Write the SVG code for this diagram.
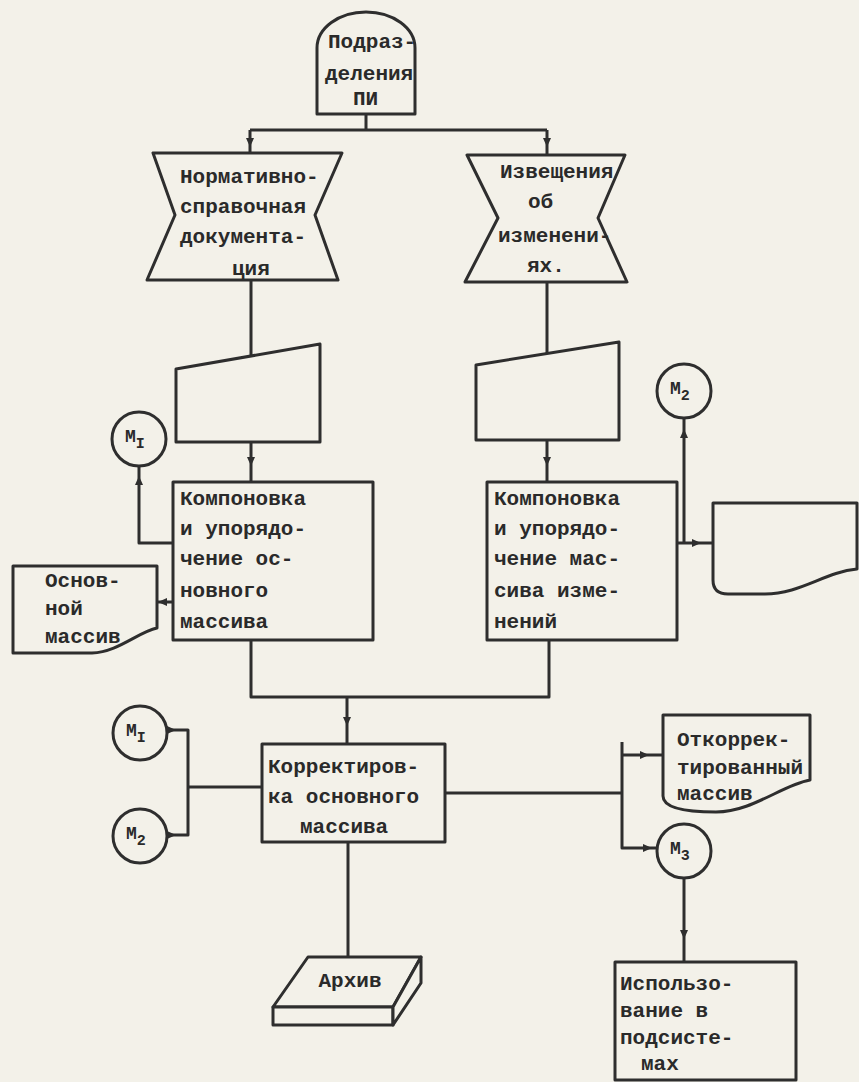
<svg xmlns="http://www.w3.org/2000/svg" xmlns:xlink="http://www.w3.org/1999/xlink" width="859" height="1082" viewBox="0 0 859 1082">
<style>
.bg{fill:#f3f1e9}
.s{fill:#f3f1e9;stroke:#2e2e2e;stroke-width:3;stroke-linejoin:round}
.c{fill:none;stroke:#2e2e2e;stroke-width:3;stroke-linejoin:round}
.t{font-family:"Liberation Mono","DejaVu Sans Mono",monospace;font-size:21px;font-weight:bold;fill:#2a2a2a}
.m{font-family:"Liberation Mono","DejaVu Sans Mono",monospace;font-size:18px;font-weight:bold;fill:#2a2a2a}
.sub{font-size:15px}
.ah{fill:#2e2e2e}
</style>
<defs>
<path id="ah" class="ah" d="M-5,-4 L4,0 L-5,4 Z"/>
</defs>
<rect class="bg" x="0" y="0" width="859" height="1082"/>

<g id="connectors">
<path class="c" d="M366,114 V130 M250,130 H547 M250,130 V153 M547,130 V155"/>
<path class="c" d="M251,280 V356 M547,282 V354"/>
<path class="c" d="M251,442 V482 M547,440 V482"/>
<path class="c" d="M173,543 H139 V466"/>
<path class="c" d="M173,602 H157"/>
<path class="c" d="M677,543 H713 M684,543 V419"/>
<path class="c" d="M251,640 V697 H549 V640 M347,697 V744"/>
<path class="c" d="M167,730 H188 V835 H167 M188,787 H262"/>
<path class="c" d="M445,793 H622 M622,742 V848 H657 M622,755 H663"/>
<path class="c" d="M684,878 V962"/>
<path class="c" d="M348,842 V957"/>
<use xlink:href="#ah" transform="translate(250,143) rotate(90)"/>
<use xlink:href="#ah" transform="translate(547,143) rotate(90)"/>
<use xlink:href="#ah" transform="translate(251,462) rotate(90)"/>
<use xlink:href="#ah" transform="translate(547,462) rotate(90)"/>
<use xlink:href="#ah" transform="translate(139,480) rotate(-90)"/>
<use xlink:href="#ah" transform="translate(162,602) rotate(180)"/>
<use xlink:href="#ah" transform="translate(684,433) rotate(-90)"/>
<use xlink:href="#ah" transform="translate(697,543)"/>
<use xlink:href="#ah" transform="translate(347,722) rotate(90)"/>
<use xlink:href="#ah" transform="translate(645,755)"/>
<use xlink:href="#ah" transform="translate(648,848)"/>
<use xlink:href="#ah" transform="translate(684,935) rotate(90)"/>
<use xlink:href="#ah" transform="translate(172,730)"/>
<use xlink:href="#ah" transform="translate(172,835)"/>
</g>

<g id="podrazdeleniya">
<path class="s" d="M317,114 V48 A49,36 0 0 1 415,48 V114 Z"/>
<text class="t" x="328" y="48">Подраз-</text>
<text class="t" x="325" y="80">деления</text>
<text class="t" x="353" y="105">ПИ</text>
</g>

<g id="nsd">
<path class="s" d="M153,153 H342 L315,215 L338,280 H147 L175,215 Z"/>
<text class="t" x="180" y="183">Нормативно-</text>
<text class="t" x="180" y="213">справочная</text>
<text class="t" x="180" y="243">документа-</text>
<text class="t" x="232" y="275">ция</text>
</g>

<g id="izveshcheniya">
<path class="s" d="M467,155 H625 L598,218 L627,282 H465 L498,218 Z"/>
<text class="t" x="500" y="178">Извещения</text>
<text class="t" x="528" y="208">об</text>
<text class="t" x="498" y="242">изменени-</text>
<text class="t" x="527" y="272">ях.</text>
</g>

<g id="input-left">
<path class="s" d="M176,369 L320,344 V442 H176 Z"/>
</g>

<g id="input-right">
<path class="s" d="M476,365 L619,342 V440 H476 Z"/>
</g>

<g id="m1-top">
<circle class="s" cx="139" cy="439" r="27"/>
<text class="m" x="125" y="442">M<tspan class="sub" dy="6">I</tspan></text>
</g>

<g id="m2-top">
<circle class="s" cx="684" cy="391" r="27"/>
<text class="m" x="670" y="394">M<tspan class="sub" dy="6">2</tspan></text>
</g>

<g id="box-left">
<rect class="s" x="173" y="482" width="200" height="158"/>
<text class="t" x="180" y="505">Компоновка</text>
<text class="t" x="180" y="535">и упорядо-</text>
<text class="t" x="180" y="565">чение ос-</text>
<text class="t" x="180" y="597">новного</text>
<text class="t" x="180" y="628">массива</text>
</g>

<g id="box-right">
<rect class="s" x="487" y="482" width="190" height="158"/>
<text class="t" x="494" y="505">Компоновка</text>
<text class="t" x="494" y="535">и упорядо-</text>
<text class="t" x="494" y="565">чение мас-</text>
<text class="t" x="494" y="597">сива изме-</text>
<text class="t" x="494" y="628">нений</text>
</g>

<g id="doc-osnovnoy">
<path class="s" d="M13,566 H157 V628 C138,632 118,652 92,653 L13,653 Z"/>
<text class="t" x="45" y="587">Основ-</text>
<text class="t" x="45" y="615">ной</text>
<text class="t" x="45" y="643">массив</text>
</g>

<g id="doc-right">
<path class="s" d="M713,503 H857 V569 C825,572 800,594 765,594 L728,594 Q713,594 713,580 Z"/>
</g>

<g id="korrektirovka">
<rect class="s" x="262" y="744" width="183" height="98"/>
<text class="t" x="268" y="773">Корректиров-</text>
<text class="t" x="268" y="803">ка основного</text>
<text class="t" x="300" y="833">массива</text>
</g>

<g id="m1-low">
<circle class="s" cx="140" cy="733" r="27"/>
<text class="m" x="126" y="736">M<tspan class="sub" dy="6">I</tspan></text>
</g>

<g id="m2-low">
<circle class="s" cx="140" cy="836" r="27"/>
<text class="m" x="126" y="839">M<tspan class="sub" dy="6">2</tspan></text>
</g>

<g id="doc-otkorr">
<path class="s" d="M663,715 H810 V780 C782,785 752,812 716,812 Q663,812 663,796 Z"/>
<text class="t" x="677" y="746">Откоррек-</text>
<text class="t" x="677" y="774">тированный</text>
<text class="t" x="677" y="800">массив</text>
</g>

<g id="m3">
<circle class="s" cx="684" cy="851" r="27"/>
<text class="m" x="670" y="854">M<tspan class="sub" dy="6">3</tspan></text>
</g>

<g id="ispolzovanie">
<rect class="s" x="615" y="962" width="181" height="118"/>
<text class="t" x="620" y="990">Использо-</text>
<text class="t" x="620" y="1017">вание в</text>
<text class="t" x="620" y="1044">подсисте-</text>
<text class="t" x="641" y="1070">мах</text>
</g>

<g id="arkhiv">
<path class="s" d="M308,957 H421 L393,1007 H273 Z"/>
<path class="s" d="M273,1007 H393 V1025 H273 Z"/>
<path class="s" d="M421,957 V983 L393,1025 V1007 Z"/>
<text class="t" x="350" y="987" text-anchor="middle">Архив</text>
</g>
</svg>
